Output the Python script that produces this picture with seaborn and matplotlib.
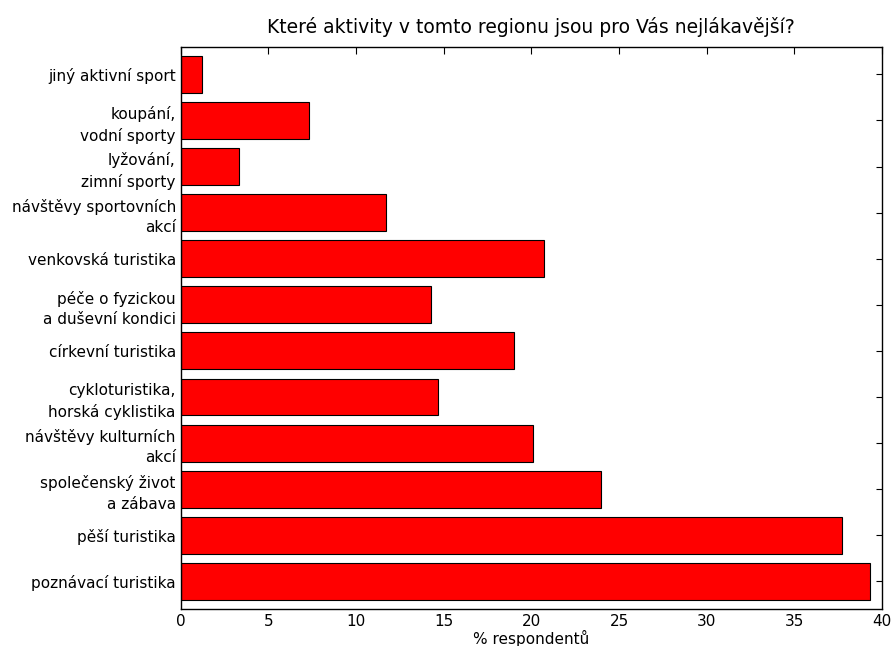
import pandas as pd
import seaborn as sns
import matplotlib.pyplot as plt

# activities (top to bottom as in the chart) and % of respondents
activities = ["jiný aktivní sport", "koupání,\nvodní sporty", "lyžování,\nzimní sporty",
              "návštěvy sportovních\nakcí", "venkovská turistika", "péče o fyzickou\na duševní kondici",
              "církevní turistika", "cykloturistika,\nhorská cyklistika", "návštěvy kulturních\nakcí",
              "společenský život\na zábava", "pěší turistika", "poznávací turistika"]
percent = [1.2, 7.3, 3.3, 11.7, 20.7, 14.3, 19.0, 14.7, 20.1, 24.0, 37.7, 39.3]

data = pd.DataFrame({"activity": activities, "percent": percent})

sns.set_style("white")
plt.rcParams['font.family'] = ['DejaVu Sans']
plt.rcParams['text.color'] = "black"
plt.rcParams['xtick.color'] = "black"
plt.rcParams['ytick.color'] = "black"
plt.rcParams['axes.labelcolor'] = "black"

fig = plt.figure(figsize=(8.92, 6.46), dpi=100)
ax = fig.add_axes([0.2026, 0.0573, 0.7862, 0.8704])

sns.barplot(data=data, x="percent", y="activity", color="#ff0000", saturation=1,
            edgecolor="black", linewidth=0.8, width=0.8, ax=ax)

ax.set_xlim(0, 40)
ax.set_ylim(11.6, -0.6)
ax.set_xticks(range(0, 41, 5))
ax.set_title("Které aktivity v tomto regionu jsou pro Vás nejlákavější?", fontsize=13.5, pad=10)
ax.set_xlabel("% respondentů", fontsize=11, labelpad=1)
ax.set_ylabel("")
ax.tick_params(axis="both", direction="in", top=True, right=True, length=5, labelsize=11)
ax.tick_params(axis="y", length=4)
for lbl in ax.get_yticklabels():
    lbl.set_linespacing(1.45)
for s in ax.spines.values():
    s.set_color("black")
    s.set_linewidth(1)

plt.savefig("out.png", dpi=100)
